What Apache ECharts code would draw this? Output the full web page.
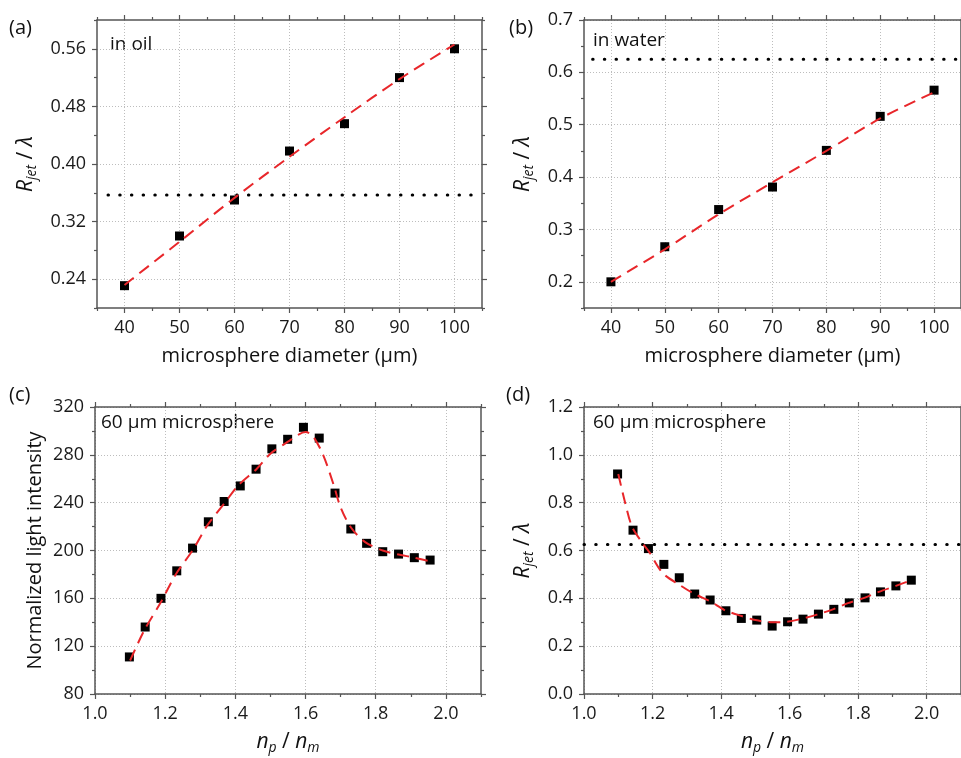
<!DOCTYPE html>
<html>
<head>
<meta charset="utf-8">
<script src="https://cdn.jsdelivr.net/npm/echarts@6/dist/echarts.min.js"></script>
<style>
  html, body { margin: 0; background: #fff; }
  #chart { width: 961px; height: 758px; }
</style>
</head>
<body>
<div id="chart"></div>
<script>
// (a), (b): jet radius vs microsphere diameter
var diameters = [40, 50, 60, 70, 80, 90, 100];
var oilRatio = [0.231, 0.300, 0.350, 0.418, 0.456, 0.520, 0.560];
var oilFit = [0.232, 0.292, 0.353, 0.410, 0.465, 0.518, 0.566];
var waterRatio = [0.200, 0.267, 0.338, 0.381, 0.451, 0.516, 0.566];
var waterFit = [0.200, 0.262, 0.329, 0.390, 0.450, 0.512, 0.562];
var oilLimit = 0.357;
var waterLimit = 0.625;

// (c), (d): 60 um microsphere, refractive index contrast sweep
var indexRatio = [1.098, 1.143, 1.188, 1.233, 1.278, 1.323, 1.368, 1.414, 1.459, 1.504,
                  1.549, 1.594, 1.639, 1.684, 1.729, 1.774, 1.820, 1.865, 1.910, 1.955];
var intensity = [111, 136, 160, 183, 202, 224, 241, 254, 268, 285,
                 293, 303, 294, 248, 218, 206, 199, 197, 194, 192];
var intensityFitX = [1.10, 1.14, 1.19, 1.23, 1.28, 1.32, 1.37, 1.41, 1.46, 1.50, 1.55, 1.58,
                     1.60, 1.62, 1.65, 1.68, 1.70, 1.73, 1.77, 1.82, 1.86, 1.91, 1.955];
var intensityFit = [108, 133, 158, 180, 201, 221, 240, 255, 268, 281, 291, 297,
                    299, 296, 280, 255, 236, 219, 207, 200, 197, 194, 191];
var rjet = [0.920, 0.685, 0.608, 0.542, 0.486, 0.418, 0.393, 0.348, 0.316, 0.309,
            0.284, 0.302, 0.313, 0.334, 0.354, 0.381, 0.402, 0.427, 0.452, 0.476];
var rjetFitX = [1.10, 1.12, 1.14, 1.17, 1.19, 1.23, 1.28, 1.32, 1.37, 1.41, 1.46,
                1.50, 1.55, 1.59, 1.64, 1.68, 1.73, 1.77, 1.82, 1.86, 1.91, 1.955];
var rjetFit = [0.92, 0.80, 0.70, 0.632, 0.594, 0.505, 0.455, 0.42, 0.386, 0.351, 0.326,
               0.309, 0.300, 0.302, 0.316, 0.332, 0.356, 0.380, 0.403, 0.427, 0.452, 0.476];
var rjetLimit = 0.625;

// tick values
var diamTicks = [40, 50, 60, 70, 80, 90, 100];
var diamMinor = [35, 45, 55, 65, 75, 85, 95, 105];
var oilTicks = [0.24, 0.32, 0.40, 0.48, 0.56];
var oilMinor = [0.20, 0.28, 0.36, 0.44, 0.52, 0.60];
var waterTicks = [0.2, 0.3, 0.4, 0.5, 0.6, 0.7];
var waterMinor = [0.15, 0.25, 0.35, 0.45, 0.55, 0.65];
var ratioTicks = [1.0, 1.2, 1.4, 1.6, 1.8, 2.0];
var ratioMinor = [1.1, 1.3, 1.5, 1.7, 1.9, 2.1];
var intensityTicks = [80, 120, 160, 200, 240, 280, 320];
var intensityMinor = [100, 140, 180, 220, 260, 300];
var rjetTicks = [0.0, 0.2, 0.4, 0.6, 0.8, 1.0, 1.2];
var rjetMinor = [0.1, 0.3, 0.5, 0.7, 0.9, 1.1];

var font = 'Open Sans';
var axisColor = '#555';
var red = '#e8262a';

function pairs(xs, ys) {
    return xs.map(function (x, i) { return [x, ys[i]]; });
}

var nameRich = {
    i: { fontStyle: 'italic', fontSize: 21, fontFamily: font, color: '#111' },
    s: { fontStyle: 'italic', fontSize: 14, fontFamily: font, color: '#111', padding: [12, 0, 0, 0] },
    n: { fontSize: 21, fontFamily: font, color: '#111' }
};
var rjetName = '{i|R}{s|jet}{n| / }{i|λ}';
var indexName = '{i|n}{s|p}{n| / }{i|n}{s|m}';

var panels = [
    { grid: { left: 97, top: 20, width: 385, height: 288 },
      x: { min: 35, max: 105, step: 10, major: diamTicks, minor: diamMinor, dec: 0,
           name: 'microsphere diameter (μm)', gap: 38 },
      y: { min: 0.2, max: 0.6, step: 0.08, major: oilTicks, minor: oilMinor, dec: 2,
           name: rjetName, gap: 58 } },
    { grid: { left: 584, top: 20, width: 387, height: 288 },
      x: { min: 35, max: 105, step: 10, major: diamTicks, minor: diamMinor, dec: 0,
           name: 'microsphere diameter (μm)', gap: 38 },
      y: { min: 0.15, max: 0.7, step: 0.1, major: waterTicks, minor: waterMinor, dec: 1,
           name: rjetName, gap: 48 } },
    { grid: { left: 95, top: 407, width: 386, height: 287 },
      x: { min: 1.0, max: 2.1, step: 0.2, major: ratioTicks, minor: ratioMinor, dec: 1,
           name: indexName, gap: 35 },
      y: { min: 80, max: 320, step: 40, major: intensityTicks, minor: intensityMinor, dec: 0,
           name: 'Normalized light intensity', gap: 50 } },
    { grid: { left: 584, top: 407, width: 388, height: 287 },
      x: { min: 1.0, max: 2.1, step: 0.2, major: ratioTicks, minor: ratioMinor, dec: 1,
           name: indexName, gap: 35 },
      y: { min: 0, max: 1.2, step: 0.2, major: rjetTicks, minor: rjetMinor, dec: 1,
           name: rjetName, gap: 48 } }
];

function buildAxes(gi, a, isX) {
    var line = { show: true, onZero: false, lineStyle: { color: axisColor, width: 1.5 } };
    var pos = isX ? ['bottom', 'top'] : ['left', 'right'];
    var base = { type: 'value', gridIndex: gi, min: a.min, max: a.max, scale: true };
    var out = [];
    // main axis with labels and grid lines
    out.push(Object.assign({}, base, {
        position: pos[0],
        interval: a.step,
        axisLine: line,
        axisTick: { show: true, customValues: a.major, length: 5, lineStyle: { color: axisColor, width: 1.2 } },
        axisLabel: {
            customValues: a.major, margin: 11, fontSize: 18, fontFamily: font, color: '#1a1a1a',
            formatter: function (v) { return (+v).toFixed(a.dec); }
        },
        splitLine: { show: true, lineStyle: { color: '#bdbdbd', width: 1, type: [1, 2] } },
        name: a.name,
        nameLocation: 'middle',
        nameGap: a.gap,
        nameTextStyle: { fontSize: 20, fontFamily: font, color: '#111', rich: nameRich }
    }));
    // minor ticks
    out.push(Object.assign({}, base, {
        position: pos[0],
        axisLine: { show: false, onZero: false },
        axisTick: { show: true, customValues: a.minor, length: 3, lineStyle: { color: axisColor, width: 1.2 } },
        axisLabel: { show: false },
        splitLine: { show: false }
    }));
    // mirrored frame side
    out.push(Object.assign({}, base, {
        position: pos[1],
        axisLine: line,
        axisTick: { show: true, customValues: a.major, length: 5, lineStyle: { color: axisColor, width: 1.2 } },
        axisLabel: { show: false },
        splitLine: { show: false }
    }));
    out.push(Object.assign({}, base, {
        position: pos[1],
        axisLine: { show: false, onZero: false },
        axisTick: { show: true, customValues: a.minor, length: 3, lineStyle: { color: axisColor, width: 1.2 } },
        axisLabel: { show: false },
        splitLine: { show: false }
    }));
    return out;
}

var grids = [], xAxes = [], yAxes = [];
panels.forEach(function (p, i) {
    grids.push(p.grid);
    xAxes = xAxes.concat(buildAxes(i, p.x, true));
    yAxes = yAxes.concat(buildAxes(i, p.y, false));
});

function points(gi, xs, ys) {
    return {
        type: 'scatter', xAxisIndex: gi * 4, yAxisIndex: gi * 4,
        data: pairs(xs, ys), symbol: 'rect', symbolSize: 9,
        itemStyle: { color: '#000', opacity: 1 }, z: 3
    };
}
function fit(gi, xs, ys, smooth) {
    return {
        type: 'line', xAxisIndex: gi * 4, yAxisIndex: gi * 4,
        data: pairs(xs, ys), showSymbol: false, smooth: smooth,
        lineStyle: { color: red, width: 2, type: [12, 7] }, z: 4
    };
}
function limit(gi, x0, x1, v) {
    return {
        type: 'line', xAxisIndex: gi * 4, yAxisIndex: gi * 4,
        data: [[x0, v], [x1, v]], showSymbol: false,
        lineStyle: { color: '#000', width: 3, type: [0.5, 11.2], cap: 'round' }, z: 2
    };
}

function label(text, x, y, size) {
    return {
        type: 'text', x: x, y: y,
        style: { text: text, fontSize: size, fontFamily: font, fill: '#111', verticalAlign: 'middle' }
    };
}

var chart = echarts.init(document.getElementById('chart'));
chart.setOption({
    animation: false,
    backgroundColor: '#fff',
    grid: grids,
    xAxis: xAxes,
    yAxis: yAxes,
    graphic: [
        label('(a)', 9, 28, 20),
        label('(b)', 509, 28, 20),
        label('(c)', 9, 395, 20),
        label('(d)', 506, 395, 20),
        label('in oil', 110, 45, 19),
        label('in water', 593, 41, 19),
        label('60 μm microsphere', 101, 423, 19),
        label('60 μm microsphere', 593, 423, 19)
    ],
    series: [
        limit(0, 37, 105, oilLimit),
        points(0, diameters, oilRatio),
        fit(0, diameters, oilFit, 0.3),
        limit(1, 36.6, 105, waterLimit),
        points(1, diameters, waterRatio),
        fit(1, diameters, waterFit, 0.3),
        points(2, indexRatio, intensity),
        fit(2, intensityFitX, intensityFit, 0.3),
        limit(3, 1.0, 2.1, rjetLimit),
        points(3, indexRatio, rjet),
        fit(3, rjetFitX, rjetFit, 0.3)
    ]
});
</script>
</body>
</html>
